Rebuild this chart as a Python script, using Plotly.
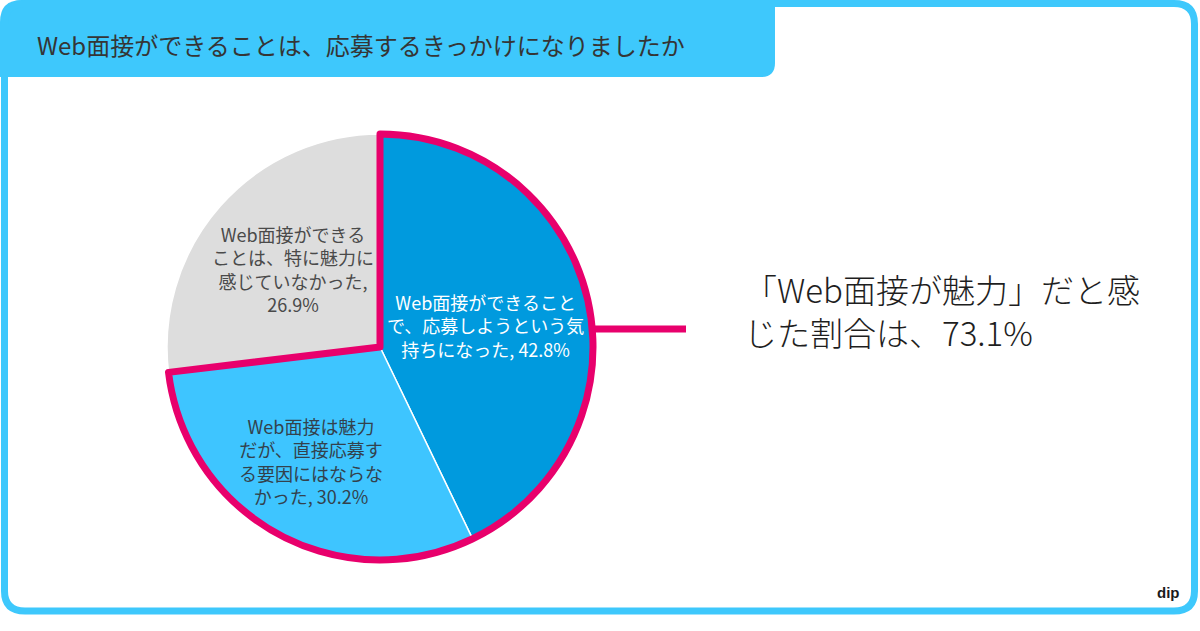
import plotly.graph_objects as go

# survey answers, clockwise from 12 o'clock
categories = [
    "Web面接ができることで、応募しようという気持ちになった",
    "Web面接は魅力だが、直接応募する要因にはならなかった",
    "Web面接ができることは、特に魅力に感じていなかった",
]
shares = [42.8, 30.2, 26.9]
# share who found web interviews attractive (first two answers), as published
attractive_share = 73.1
other_share = 26.9

title = "Web面接ができることは、応募するきっかけになりましたか"
callout_template = "「Web面接が魅力」だと感<br>じた割合は、{:.1f}%"

W, H = 1200, 631
slice_colors = ["#009ade", "#3ec5ff", "#dddddd"]
text_colors = ["#ffffff", "#33424d", "#4a4a4a"]
wrap_sizes = [[11, 11], [8, 8, 8], [9, 9, 9]]
label_pos = [(485, 325), (311, 461), (293, 269)]
frame_blue = "#3ec8fc"
pink = "#e8006c"
font_jp = "Noto Sans CJK JP"

cx, cy, r = 380, 347, 213


def px(x):
    return x / W


def py(y):
    return 1 - y / H


def path(points):
    # points are (cmd, x, y, ...) in pixels, top-left origin
    out = []
    for p in points:
        cmd, nums = p[0], p[1:]
        coords = []
        for i in range(0, len(nums), 2):
            coords.append(f"{px(nums[i]):.5f},{py(nums[i + 1]):.5f}")
        out.append(cmd + " " + " ".join(coords))
    return " ".join(out) + " Z"


def wrap(text, sizes):
    parts = []
    for n in sizes:
        parts.append(text[:n])
        text = text[n:]
    parts.append(text.strip())
    return "<br>".join(parts)


domain = dict(x=[px(cx - r), px(cx + r)], y=[py(cy + r), py(cy - r)])

fig = go.Figure()
fig.add_trace(go.Pie(
    labels=categories,
    values=shares,
    sort=False,
    direction="clockwise",
    rotation=0,
    domain=domain,
    marker=dict(colors=slice_colors, line=dict(color="white", width=1.5)),
    textinfo="none",
    hoverinfo="skip",
    showlegend=False,
))

# pink outline around the "attractive" group
fig.add_trace(go.Pie(
    labels=["attractive", "other"],
    values=[attractive_share, other_share],
    sort=False,
    direction="clockwise",
    rotation=0,
    domain=domain,
    marker=dict(colors=["rgba(0,0,0,0)", "rgba(0,0,0,0)"],
                line=dict(color=[pink, "rgba(0,0,0,0)"], width=[7, 0])),
    textinfo="none",
    hoverinfo="skip",
    showlegend=False,
))

for i, cat in enumerate(categories):
    x, y = label_pos[i]
    fig.add_annotation(
        x=px(x), y=py(y), xref="paper", yref="paper",
        text=wrap(f"{cat}, {shares[i]:.1f}%", wrap_sizes[i]),
        showarrow=False, align="center", xanchor="center", yanchor="middle",
        font=dict(family=font_jp, size=18, color=text_colors[i]),
    )

shapes = [
    # title tab
    dict(type="path", xref="paper", yref="paper", layer="below",
         path=path([("M", 0, 77), ("L", 0, 22), ("Q", 0, 0, 22, 0), ("L", 775, 0),
                    ("L", 775, 63), ("Q", 775, 77, 761, 77)]),
         fillcolor=frame_blue, line=dict(width=0)),
    # outer frame
    dict(type="path", xref="paper", yref="paper", layer="below",
         path=path([("M", 4.5, 24), ("Q", 4.5, 3.5, 25, 3.5), ("L", 1174, 3.5),
                    ("Q", 1194.5, 3.5, 1194.5, 24), ("L", 1194.5, 591),
                    ("Q", 1194.5, 611, 1174, 611), ("L", 25, 611),
                    ("Q", 4.5, 611, 4.5, 591)]),
         fillcolor="rgba(0,0,0,0)", line=dict(color=frame_blue, width=7)),
    # connector to the callout
    dict(type="line", xref="paper", yref="paper", layer="below",
         x0=px(cx + r), x1=px(686), y0=py(329), y1=py(329),
         line=dict(color=pink, width=7)),
]

fig.add_annotation(
    x=px(35), y=py(44), xref="paper", yref="paper", text=title,
    showarrow=False, xanchor="left", yanchor="middle",
    font=dict(family=font_jp, size=24, color="#353535"),
)
fig.add_annotation(
    x=px(742), y=py(310), xref="paper", yref="paper",
    text=callout_template.format(attractive_share),
    showarrow=False, xanchor="left", yanchor="middle", align="left",
    font=dict(family=font_jp, size=33, color="#1e1e1e", weight=300),
)
fig.add_annotation(
    x=px(1168), y=py(592), xref="paper", yref="paper", text="dip",
    showarrow=False, xanchor="center", yanchor="middle",
    font=dict(family="Liberation Sans", size=15, color="#1a1a1a", weight="bold"),
)

fig.update_layout(
    width=W,
    height=H,
    margin=dict(l=0, r=0, t=0, b=0),
    paper_bgcolor="white",
    plot_bgcolor="white",
    shapes=shapes,
    showlegend=False,
)

fig.write_html(
    "out.html",
    config={"displayModeBar": False},
    post_script="document.body.style.margin='0';",
)
